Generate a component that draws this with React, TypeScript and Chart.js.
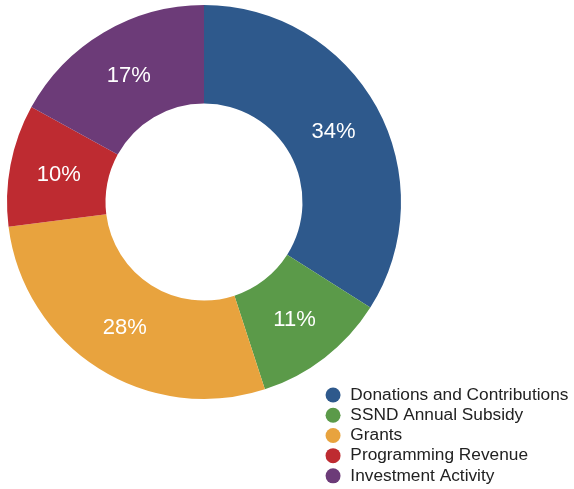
import React, { useEffect, useRef } from 'react';
import { Chart, registerables } from 'chart.js';

Chart.register(...registerables);

const categories = [
  'Donations and Contributions',
  'SSND Annual Subsidy',
  'Grants',
  'Programming Revenue',
  'Investment Activity',
];
const shares = [34, 11, 28, 10, 17];
const colors = ['#2E598C', '#5B9A49', '#E8A33E', '#BE2B31', '#6C3B78'];

const W = 574;
const H = 489;
const FONT = '"Liberation Sans", Arial, Helvetica, sans-serif';

export default function App() {
  const ref = useRef<HTMLCanvasElement>(null);

  useEffect(() => {
    const canvas = ref.current;
    if (!canvas) return;

    const percentLabels = {
      id: 'percentLabels',
      afterDatasetsDraw(chart: any) {
        const { ctx } = chart;
        const meta = chart.getDatasetMeta(0);
        ctx.save();
        ctx.font = `22px ${FONT}`;
        ctx.fillStyle = '#ffffff';
        ctx.textAlign = 'center';
        ctx.textBaseline = 'middle';
        meta.data.forEach((arc: any, i: number) => {
          const p = arc.tooltipPosition(false);
          ctx.fillText(`${shares[i]}%`, p.x, p.y + 1);
        });
        ctx.restore();
      },
    };

    const legendPlacer = {
      id: 'legendPlacer',
      afterLayout(chart: any) {
        const lg = chart.legend;
        if (!lg) return;
        lg.left = 321.5;
        lg.right = W;
        lg.top = 383.5;
        lg.bottom = H;
        lg.width = lg.right - lg.left;
        lg.height = lg.bottom - lg.top;
      },
    };

    const chart = new Chart(canvas, {
      type: 'doughnut',
      data: {
        labels: categories,
        datasets: [
          {
            data: shares,
            backgroundColor: colors,
            borderWidth: 0,
          },
        ],
      },
      options: {
        responsive: false,
        animation: false,
        devicePixelRatio: 1,
        cutout: '50%',
        layout: { padding: { left: 7, right: 173, top: 5, bottom: 90 } },
        plugins: {
          legend: {
            position: 'chartArea',
            align: 'start',
            labels: {
              usePointStyle: true,
              pointStyle: 'circle',
              boxWidth: 17.3,
              boxHeight: 10.6,
              padding: 2.9,
              color: '#222222',
              font: { size: 17.3, family: FONT },
            },
          },
          tooltip: { enabled: false },
        },
      } as any,
      plugins: [percentLabels, legendPlacer],
    });

    return () => {
      chart.destroy();
    };
  }, []);

  return (
    <div style={{ position: 'absolute', left: 0, top: 0, width: W, height: H, background: '#ffffff' }}>
      <canvas ref={ref} width={W} height={H} style={{ width: W, height: H, display: 'block' }} />
    </div>
  );
}
